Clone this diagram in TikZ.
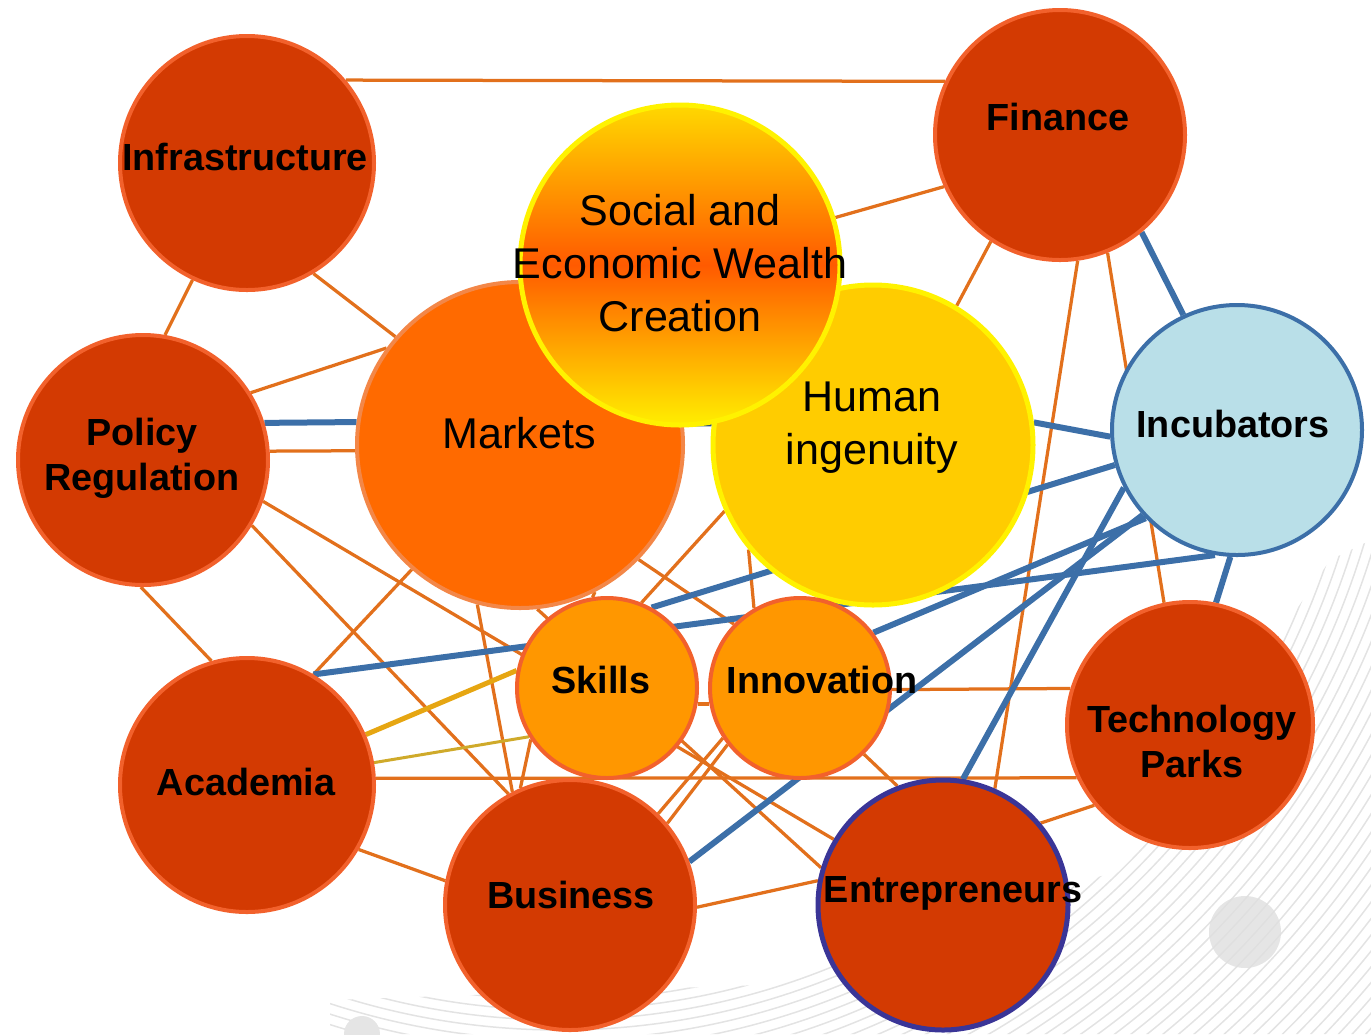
\documentclass[tikz,border=0pt]{standalone}
\usepackage{fontspec}
\setmainfont{Liberation Sans}
\usetikzlibrary{backgrounds}

\definecolor{hubred}{HTML}{D33A02}
\definecolor{rimred}{HTML}{F2612C}
\definecolor{mktorange}{HTML}{FF6A00}
\definecolor{mktrim}{HTML}{F38748}
\definecolor{skillorange}{HTML}{FF9700}
\definecolor{wireorange}{HTML}{E2701C}
\definecolor{wireblue}{HTML}{3C6FA8}
\definecolor{wiregold}{HTML}{E6A612}
\definecolor{wireolive}{HTML}{CFAA2A}
\definecolor{incubfill}{HTML}{B9DFE8}
\definecolor{humangold}{HTML}{FFCC00}
\definecolor{entrerim}{HTML}{3A3597}
\definecolor{wealthtop}{HTML}{FFD800}
\definecolor{wealthmid}{HTML}{FF5A00}
\definecolor{wealthbot}{HTML}{FFEE00}

\tikzset{
  hub/.style={circle, inner sep=0pt, minimum size=#1*0.4mm, line width=0.8mm},
  redhub/.style={hub=#1, fill=hubred, draw=rimred},
  wire/.style={draw=wireorange, line width=0.65mm},
  bluewire/.style={draw=wireblue, line width=1.2mm},
  boldlbl/.style={font=\bfseries\fontsize{21.5}{25.6}\selectfont, align=center, inner sep=0pt},
  thinlbl/.style={font=\fontsize{24.5}{30}\selectfont, align=center, inner sep=0pt}
}

\begin{document}
\begin{tikzpicture}[x=0.2mm,y=-0.2mm]
\useasboundingbox (0,0) rectangle (1371,1034);

% circles
\node[redhub=127] (infra) at (247,163) {};
\node[redhub=125] (finance) at (1060,135) {};
\node[redhub=125] (policy) at (143,460) {};
\node[hub=163, fill=mktorange, draw=mktrim] (markets) at (520,445) {};
\node[hub=160, fill=humangold, draw=yellow, line width=1mm] (human) at (873,445) {};
\node[hub=160, draw=yellow, line width=1mm, top color=wealthtop, bottom color=wealthbot, middle color=wealthmid] (wealth) at (680,265) {};
\node[hub=125, fill=incubfill, draw=wireblue] (incub) at (1237,430) {};
\node[hub=90, fill=skillorange, draw=rimred] (skills) at (607,688) {};
\node[hub=90, fill=skillorange, draw=rimred] (innov) at (800,688) {};
\node[redhub=123] (techp) at (1190,725) {};
\node[redhub=127] (academia) at (247,785) {};
\node[redhub=125] (business) at (570,905) {};
\node[redhub=125, draw=entrerim, line width=1mm] (entre) at (943,905) {};

\begin{scope}[on background layer]
% faint backdrop
\begin{scope}
\clip (330,1034) -- (1371,1034) -- (1371,540) -- (1330,560) -- (1120,870) -- (760,985) -- (330,1000) -- cycle;
\foreach \rr in {700,710,...,1160} \draw[gray!22, line width=0.3mm] (560,300) circle[radius=\rr];
\end{scope}
\fill[gray!25, opacity=0.8] (1245,932) circle[radius=36];
\fill[gray!20] (362,1034) circle[radius=18];

% orange links
\draw[wire] (infra.40) -- (finance.155);
\draw[wire] (infra.245) -- (policy.80);
\draw[wire] (infra.-59) -- (markets.139);
\draw[wire] (policy.32) -- (markets.144);
\draw[wire] (policy.4) -- (markets.182.5);
\draw[wire] (policy.-91) -- (academia.106);
\draw[wire] (policy.-19) -- (entre.149);
\draw[wire] (policy.-31) -- (business.119);
\draw[wire] (academia.59) -- (markets.229);
\draw[wire] (academia.3) -- (techp.205);
\draw[wire] (academia.-30) -- (business.169);
\draw[wire] (markets.-105) -- (business.117);
\draw[wire] (markets.-44) -- (innov.136);
\draw[wire] (markets.-84) -- (entre.163);
\draw[wire] (markets.-63) -- (skills.99);
\draw[wire] (skills.68) -- (human.204);
\draw[wire] (skills.214) -- (business.113);
\draw[wire] (skills.-10) -- (innov.190);
\draw[wire] (business.46) -- (innov.213);
\draw[wire] (business.40) -- (innov.218);
\draw[wire] (business.-1) -- (entre.169);
\draw[wire] (innov.-46) -- (entre.111);
\draw[wire] (innov.120) -- (human.220);
\draw[wire] (innov.-1) -- (techp.163);
\draw[wire] (entre.40) -- (techp.220);
\draw[wire] (finance.204) -- (wealth.17);
\draw[wire] (finance.237) -- (human.59);
\draw[wire] (finance.-82) -- (entre.66);
\draw[wire] (finance.-68) -- (techp.102);

% academia to skills
\draw[draw=wiregold, line width=1mm] (academia.23) -- (skills.169);
\draw[draw=wireolive, line width=0.6mm] (academia.10) -- (skills.-148);

% blue links
\draw[bluewire] (policy.17) -- (markets.172);
\draw[bluewire] (academia.59) -- (incub.260);
\draw[bluewire] (incub.196) -- (skills.61);
\draw[bluewire] (innov.37) -- (incub.224);
\draw[bluewire] (business.20) -- (incub.222);
\draw[bluewire] (entre.81) -- (incub.207);
\draw[bluewire] (finance.-50) -- (incub.115);
\draw[bluewire] (human.8) -- (incub.183);
\draw[bluewire] (incub.-93) -- (techp.78);
\draw[draw=wireblue!70!black, line width=0.5mm] (markets.7) -- (human.173);
\end{scope}

% labels
\node[boldlbl] (infratext) at (245,157) {Infrastructure};
\node[boldlbl] (financetext) at (1058,117) {Finance};
\node[boldlbl] (policytext) at (142,458) {Policy\\Regulation};
\node[thinlbl] (marketstext) at (519,433) {Markets};
\node[thinlbl] (wealthtext) at (680,263) {Social and\\Economic Wealth\\Creation};
\node[thinlbl] (humantext) at (872,428) {Human\\ingenuity};
\node[boldlbl] (incubtext) at (1233,424) {Incubators};
\node[boldlbl] (skillstext) at (601,680) {Skills};
\node[boldlbl] (innovtext) at (822,680) {Innovation};
\node[boldlbl] (techptext) at (1192,741) {Technology\\Parks};
\node[boldlbl] (academiatext) at (246,782) {Academia};
\node[boldlbl] (businesstext) at (571,895) {Business};
\node[boldlbl] (entretext) at (953,893) {Entrepreneurs};
\end{tikzpicture}
\end{document}
